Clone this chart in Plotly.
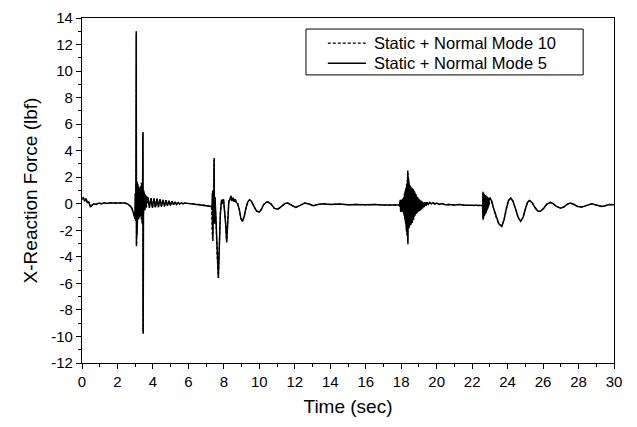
import plotly.graph_objects as go

# ---- Static + Normal Mode 5 (solid) ----
time_mode5 = [
    0.0, 0.08, 0.15, 0.22, 0.3, 0.38, 0.47, 0.55, 0.66, 0.8, 0.95, 1.1, 1.25, 1.4, 1.6, 1.8, 2.0, 2.2, 2.4, 2.55, 2.7, 2.8, 2.9, 2.98,
    3.00, 3.02, 3.04, 3.06, 3.07, 3.09, 3.10, 3.12, 3.13, 3.15, 3.16, 3.18, 3.19, 3.21, 3.22, 3.24, 3.25, 3.27, 3.28, 3.30, 3.31, 3.33, 3.35, 3.37, 3.40, 3.42, 3.44, 3.45, 3.47, 3.49, 3.51, 3.53, 3.55, 3.57, 3.59, 3.62, 3.65,
    3.72, 3.80, 3.89, 3.97, 4.06, 4.14, 4.23, 4.31, 4.40, 4.48, 4.57, 4.65, 4.74, 4.82, 4.91, 4.99, 5.08, 5.16, 5.25, 5.33, 5.42, 5.5, 5.6, 5.7, 5.8, 6.0, 6.3, 6.6, 6.9, 7.1, 7.3,
    7.33, 7.35, 7.36, 7.37, 7.38, 7.39, 7.40, 7.41, 7.42, 7.43, 7.45, 7.47, 7.50, 7.55, 7.62, 7.69, 7.75, 7.8, 7.87, 7.93, 7.98, 8.03, 8.1, 8.16, 8.22, 8.28, 8.34, 8.4, 8.46, 8.52, 8.58, 8.64, 8.7, 8.78, 8.88, 8.96, 9.04, 9.14, 9.25, 9.35, 9.45, 9.55, 9.7, 9.85, 10.0, 10.1, 10.25, 10.4, 10.5, 10.65, 10.85, 11.05, 11.25, 11.45, 11.6, 11.8, 12.05, 12.3, 12.55, 12.8, 13.05, 13.3, 13.6, 14.0, 14.5, 15.0, 15.5, 16.0, 16.5, 17.0, 17.5, 17.9,
    17.95, 17.97, 17.99, 18.01, 18.03, 18.05, 18.07, 18.09, 18.11, 18.13, 18.15, 18.17, 18.19, 18.21, 18.23, 18.25, 18.27, 18.29, 18.31, 18.33, 18.35, 18.37, 18.38, 18.40, 18.42, 18.44, 18.46, 18.48, 18.50, 18.52, 18.54, 18.56, 18.58, 18.60, 18.62, 18.64, 18.66, 18.68, 18.70, 18.72, 18.74, 18.76, 18.78, 18.80, 18.82, 18.84, 18.86, 18.88, 18.90, 18.93, 18.96, 18.99, 19.02, 19.05, 19.08, 19.11, 19.14, 19.17, 19.21, 19.25, 19.29, 19.34, 19.39, 19.45, 19.52, 19.6, 19.7, 19.8, 19.9, 20.0, 20.15, 20.3, 20.5, 20.7, 21.0, 21.3, 21.6, 21.9, 22.2, 22.45, 22.58,
    22.60, 22.61, 22.62, 22.64, 22.65, 22.67, 22.68, 22.70, 22.72, 22.74, 22.76, 22.78, 22.80, 22.82, 22.84, 22.86, 22.88, 22.90, 22.93, 22.96, 23.01, 23.1, 23.2, 23.35, 23.5, 23.67, 23.8, 23.92, 24.05, 24.18, 24.3, 24.45, 24.6, 24.74, 24.88, 25.0, 25.12, 25.23, 25.38, 25.55, 25.7, 25.83, 26.0, 26.2, 26.4, 26.55, 26.75, 27.0, 27.2, 27.35, 27.52, 27.7, 27.95, 28.18, 28.4, 28.6, 28.75, 28.95, 29.15, 29.3, 29.5, 29.75, 30.0,
]
force_mode5 = [
    0.35, 0.45, 0.2, 0.4, 0.1, 0.15, -0.22, -0.1, 0.0, -0.05, 0.05, 0.0, 0.08, 0.02, 0.08, 0.05, 0.08, 0.06, 0.05, 0.0, -0.15, -0.3, -0.7, -1.1,
    0.8, -1.3, 1.5, 13.0, -3.2, 1.7, -2.4, 1.6, -1.0, 1.5, -1.2, 1.4, -0.9, 1.3, -1.0, 1.2, -0.8, 1.1, -0.9, 1.0, -0.7, 1.3, -1.2, 1.5, -1.5, 1.2, 5.4, -9.8, 1.0, -0.6, 0.8, -0.5, 0.7, -0.4, 0.6, -0.3, 0.5,
    0.45, -0.3, 0.42, -0.3, 0.4, -0.28, 0.38, -0.25, 0.35, -0.22, 0.3, -0.2, 0.27, -0.15, 0.22, -0.12, 0.18, -0.08, 0.14, -0.05, 0.1, -0.02, 0.07, 0.0, 0.05, 0.02, 0.0, -0.05, -0.1, -0.15, -0.2,
    -0.3, 0.8, -2.0, 1.0, -2.8, 0.9, -1.8, 0.6, -1.2, 1.2, 3.45, -1.5, 0.5, -1.0, -4.0, -5.6, -3.0, -0.8, 0.3, 0.0, 0.35, -0.3, -1.5, -2.9, -1.0, 0.2, 0.3, 0.6, 0.2, 0.45, 0.15, 0.35, 0.1, 0.0, -0.5, -1.1, -1.33, -1.0, -0.3, 0.15, 0.3, 0.2, -0.2, -0.55, -0.62, -0.45, -0.05, 0.12, 0.13, 0.0, -0.35, -0.4, -0.2, 0.03, 0.05, -0.1, -0.28, -0.12, 0.05, -0.02, -0.15, -0.05, 0.0, -0.05, -0.02, -0.08, -0.05, -0.08, -0.05, -0.1, -0.07, -0.1,
    0.3, -0.6, 0.2, -0.5, 0.3, -0.6, 0.4, -0.4, 0.2, -0.7, 0.5, -0.9, 0.8, -1.2, 1.0, -1.5, 1.2, -2.0, 1.5, -2.4, 2.0, 2.5, -3.05, 2.0, -2.0, 1.5, -1.8, 1.35, -1.7, 1.3, -1.6, 1.2, -1.5, 1.15, -1.45, 1.1, -1.35, 1.05, -1.2, 0.95, -1.05, 0.85, -0.9, 0.75, -0.83, 0.65, -0.75, 0.55, -0.68, 0.48, -0.6, 0.4, -0.56, 0.3, -0.5, 0.25, -0.45, 0.18, -0.35, 0.1, -0.25, 0.12, -0.15, 0.12, -0.05, 0.1, 0.0, 0.08, -0.02, 0.05, -0.05, 0.02, -0.08, -0.05, -0.1, -0.05, -0.12, -0.12, -0.1, -0.12, -0.15,
    -0.15, 0.9, -1.2, 0.8, -1.0, 0.75, -0.9, 0.7, -0.8, 0.65, -0.7, 0.6, -0.6, 0.55, -0.5, 0.5, -0.35, 0.45, -0.2, 0.4, 0.43, 0.2, -0.3, -1.0, -1.5, -1.7, -1.2, -0.4, 0.25, 0.43, 0.2, -0.4, -1.05, -1.33, -1.0, -0.4, 0.1, 0.25, 0.1, -0.3, -0.55, -0.58, -0.4, -0.05, 0.1, 0.02, -0.2, -0.33, -0.22, -0.05, 0.05, -0.02, -0.2, -0.25, -0.15, -0.02, 0.0, -0.08, -0.18, -0.2, -0.15, -0.05, -0.08,
]

# ---- Static + Normal Mode 10 (dashed): differs only inside the dense bursts ----
burst_windows = [(2.99, 3.66), (7.32, 7.51), (17.94, 19.3), (22.595, 22.97)]
burst_time_mode10 = [
    3.005, 3.015, 3.025, 3.035, 3.045, 3.055, 3.065, 3.075, 3.085, 3.095, 3.105, 3.115, 3.125, 3.135, 3.145, 3.155, 3.165, 3.175, 3.185, 3.195, 3.205, 3.215, 3.225, 3.235, 3.245, 3.255, 3.265, 3.275, 3.285, 3.295, 3.305, 3.315, 3.325, 3.335, 3.345, 3.355, 3.365, 3.375, 3.385, 3.395, 3.405, 3.415, 3.425, 3.435, 3.455, 3.475, 3.495, 3.515, 3.535, 3.555, 3.575, 3.595, 3.615, 3.64,
    7.335, 7.345, 7.355, 7.365, 7.375, 7.385, 7.395, 7.405, 7.415, 7.425, 7.435, 7.445, 7.46, 7.49,
    17.96, 17.98, 18.00, 18.02, 18.04, 18.06, 18.08, 18.10, 18.12, 18.14, 18.16, 18.18, 18.20, 18.22, 18.24, 18.26, 18.28, 18.30, 18.32, 18.34, 18.36, 18.39, 18.41, 18.43, 18.45, 18.47, 18.49, 18.51, 18.53, 18.55, 18.57, 18.59, 18.61, 18.63, 18.65, 18.67, 18.69, 18.71, 18.73, 18.75, 18.77, 18.79, 18.81, 18.83, 18.85, 18.87, 18.89, 18.92, 18.95, 18.98, 19.01, 19.04, 19.07, 19.10, 19.13, 19.16, 19.19, 19.23, 19.27,
    22.605, 22.615, 22.63, 22.645, 22.66, 22.675, 22.69, 22.71, 22.73, 22.75, 22.77, 22.79, 22.81, 22.83, 22.85, 22.87, 22.89, 22.92, 22.95,
]
burst_force_mode10 = [
    -1.0, 1.2, -1.3, 1.6, -0.9, 1.4, 12.8, -3.1, 1.6, -2.2, 1.5, -1.1, 1.6, -0.9, 1.4, -1.1, 1.5, -1.0, 1.3, -0.8, 1.2, -1.1, 1.3, -0.7, 1.1, -0.9, 1.2, -0.8, 1.0, -0.6, 1.1, -0.9, 1.4, -1.0, 1.6, -1.3, 1.4, -1.4, 1.1, -1.2, 1.0, -0.9, 5.3, -9.7, 0.9, -0.7, 0.75, -0.55, 0.65, -0.45, 0.55, -0.35, 0.5, -0.25,
    -1.5, 0.7, -2.6, 1.0, -2.2, 0.8, -1.5, 0.9, -1.0, 1.1, -1.4, 3.3, -1.2, 0.4,
    -0.4, 0.3, -0.6, 0.25, -0.5, 0.35, -0.55, 0.3, -0.65, 0.45, -0.8, 0.7, -1.1, 0.9, -1.4, 1.1, -1.8, 1.4, -2.2, 1.8, -2.8, 2.3, -1.9, 1.6, -1.75, 1.3, -1.65, 1.25, -1.55, 1.15, -1.5, 1.1, -1.4, 1.05, -1.3, 1.0, -1.15, 0.9, -1.0, 0.8, -0.88, 0.7, -0.8, 0.6, -0.72, 0.5, -0.64, 0.45, -0.58, 0.35, -0.52, 0.28, -0.48, 0.2, -0.4, 0.15, -0.3, 0.1, -0.2,
    -1.1, 0.85, -0.95, 0.8, -0.85, 0.72, -0.85, 0.68, -0.75, 0.62, -0.65, 0.58, -0.55, 0.52, -0.45, 0.48, -0.3, 0.42, -0.15,
]


def in_burst(t):
    return any(a <= t <= b for a, b in burst_windows)


pairs10 = [(t, v) for t, v in zip(time_mode5, force_mode5) if not in_burst(t)]
pairs10 += list(zip(burst_time_mode10, burst_force_mode10))
pairs10.sort(key=lambda p: p[0])
time_mode10 = [p[0] for p in pairs10]
force_mode10 = [p[1] for p in pairs10]

series_names = ["Static + Normal Mode 10", "Static + Normal Mode 5"]
x_ticks = list(range(0, 31, 2))
y_ticks = list(range(-12, 15, 2))

font_family = "Liberation Sans, Arial, sans-serif"
dash10 = "3px,2px"

fig = go.Figure()
fig.add_trace(go.Scatter(
    x=time_mode10, y=force_mode10, mode="lines", name=series_names[0],
    line=dict(color="black", width=1.2, dash=dash10), showlegend=False,
))
fig.add_trace(go.Scatter(
    x=time_mode5, y=force_mode5, mode="lines", name=series_names[1],
    line=dict(color="black", width=1.5), showlegend=False,
))

axis_common = dict(
    showgrid=False, zeroline=False,
    showline=True, linecolor="black", linewidth=1.2, mirror=True,
    ticks="outside", ticklen=5, tickwidth=1.2, tickcolor="black",
    tickfont=dict(family=font_family, size=15, color="black"),
)

fig.update_xaxes(
    range=[0, 30], tickvals=x_ticks, ticktext=[str(v) for v in x_ticks],
    title=dict(text="Time (sec)", font=dict(family=font_family, size=19, color="black"), standoff=10),
    minor=dict(ticks="outside", ticklen=3, tickcolor="black", dtick=1, tick0=0),
    **axis_common,
)
fig.update_yaxes(
    range=[-12, 14], tickvals=y_ticks, ticktext=[str(v) for v in y_ticks],
    title=dict(text="X-Reaction Force (lbf)", font=dict(family=font_family, size=19, color="black"), standoff=8),
    minor=dict(ticks="outside", ticklen=3, tickcolor="black", dtick=1, tick0=0),
    **axis_common,
)

# Legend box drawn in paper coordinates (Origin-style boxed legend)
legend_box = dict(x0=0.421, x1=0.942, y0=0.835, y1=0.968)
row_y = [0.927, 0.869]
sample_x = (0.462, 0.534)
text_x = 0.545

shapes = [dict(type="rect", xref="paper", yref="paper", line=dict(color="black", width=1),
               fillcolor="white", layer="above", **legend_box)]
annotations = []
for i, (name, ry) in enumerate(zip(series_names, row_y)):
    shapes.append(dict(type="line", xref="paper", yref="paper",
                       x0=sample_x[0], x1=sample_x[1], y0=ry, y1=ry, layer="above",
                       line=dict(color="black", width=1.2 if i == 0 else 1.5,
                                 dash=dash10 if i == 0 else "solid")))
    annotations.append(dict(xref="paper", yref="paper", x=text_x, y=ry, text=name,
                            showarrow=False, xanchor="left", yanchor="middle",
                            font=dict(family=font_family, size=16.5, color="black")))

fig.update_layout(
    width=637, height=427,
    margin=dict(l=74, r=31, t=10, b=72, autoexpand=False),
    plot_bgcolor="white", paper_bgcolor="white",
    font=dict(family=font_family, size=15, color="black"),
    showlegend=False,
    shapes=shapes,
    annotations=annotations,
)

fig.write_html("out.html")
